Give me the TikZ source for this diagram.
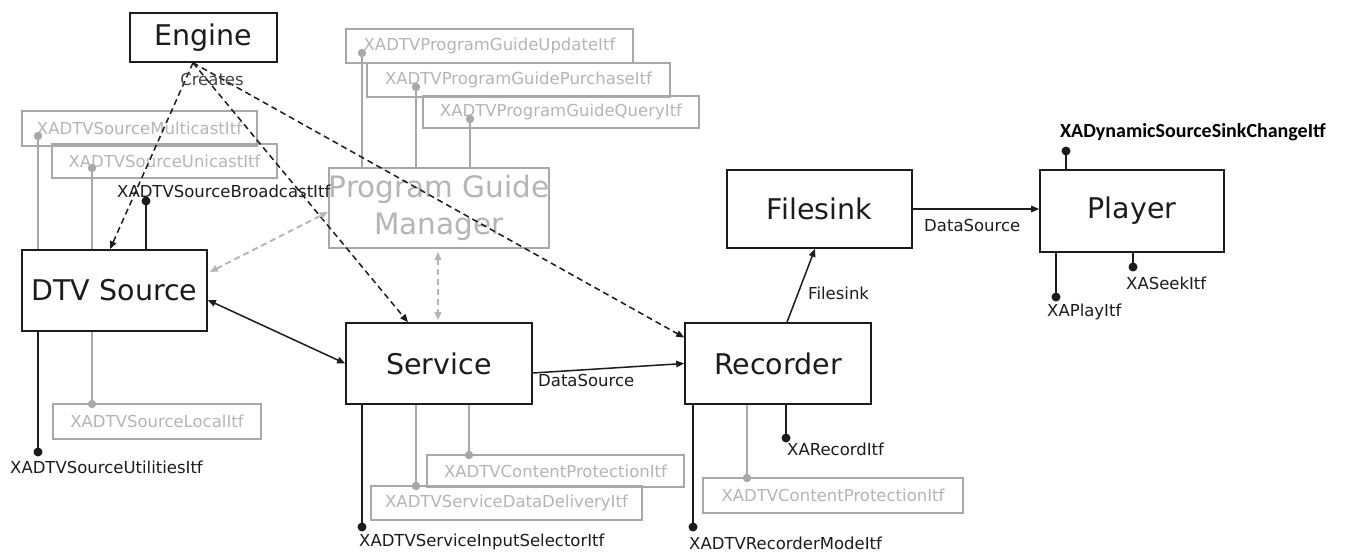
\documentclass[tikz,border=0pt]{standalone}
\usepackage{fontspec}
\setmainfont{DejaVu Sans}
\newfontfamily\calib{Carlito}
\usetikzlibrary{arrows.meta}
\definecolor{lg}{HTML}{A8A8A8}
\definecolor{lgt}{HTML}{B5B5B5}
\definecolor{dk}{HTML}{1C1C1C}
\definecolor{mdk}{HTML}{444444}
\begin{document}
\begin{tikzpicture}[x=1pt,y=-1pt,
 comp/.style={draw=dk, line width=1.6pt, inner sep=0pt, font=\fontsize{28.5}{31}\selectfont, text=dk},
 ibox/.style={draw=lg, line width=1.8pt, inner sep=0pt, font=\fontsize{16.5}{18}\selectfont, text=lgt},
 lbl/.style={inner sep=0pt, font=\fontsize{16.5}{18}\selectfont, text=dk, anchor=west},
 bline/.style={draw=dk, line width=1.6pt},
 gline/.style={draw=lg, line width=1.8pt},
 tip/.style={-{Triangle[length=8pt,width=6.5pt]}},
 ttip/.style={{Triangle[length=8pt,width=6.5pt]}-{Triangle[length=8pt,width=6.5pt]}},
 dsh/.style={dash pattern=on 6pt off 4pt, line width=1.5pt},
]
\fill[white] (0,0) rectangle (1359,554);
\useasboundingbox (0,0) rectangle (1359,554);

% interface boxes (grey)
\node[ibox, minimum width=235, minimum height=35] (mc) at (139.5,128.5) {XADTVSourceMulticastItf};
\node[ibox, minimum width=225, minimum height=34] (uc) at (164.5,161) {XADTVSourceUnicastItf};
\node[ibox, minimum width=208, minimum height=35] (lc) at (157,421.5) {XADTVSourceLocalItf};
\node[ibox, minimum width=287, minimum height=34] (pgu) at (489.5,46) {XADTVProgramGuideUpdateItf};
\node[ibox, minimum width=303, minimum height=34] (pgp) at (518.5,80) {XADTVProgramGuidePurchaseItf};
\node[ibox, minimum width=276, minimum height=32] (pgq) at (561,112) {XADTVProgramGuideQueryItf};
\node[ibox, minimum width=257, minimum height=32] (scp) at (555.5,471) {XADTVContentProtectionItf};
\node[ibox, minimum width=271, minimum height=34] (sdd) at (506.5,503) {XADTVServiceDataDeliveryItf};
\node[ibox, minimum width=260, minimum height=35] (rcp) at (833,495.5) {XADTVContentProtectionItf};

% components
\node[comp, minimum width=147, minimum height=49] (engine) at (203.5,37.5) {Engine};
\node[comp, minimum width=185, minimum height=81] (dtv) at (114.5,290.5) {DTV Source};
\node[comp, draw=lg, text=lgt, line width=1.8pt, minimum width=186, minimum height=80, align=center,
      font=\fontsize{29.5}{37}\selectfont] (pgm) at (439,208) {Program Guide\\Manager};
\node[comp, minimum width=186, minimum height=81] (service) at (439,363.5) {Service};
\node[comp, minimum width=186, minimum height=81] (recorder) at (778,363.5) {Recorder};
\node[comp, minimum width=185, minimum height=78] (filesink) at (819.5,209) {Filesink};
\node[comp, minimum width=184, minimum height=82] (player) at (1132,211) {Player};

% dot coordinates
\coordinate (dmc) at (38,136);
\coordinate (duc) at (92,168);
\coordinate (dbc) at (146,201);
\coordinate (dut) at (38,452);
\coordinate (dlc) at (92,404);
\coordinate (dpu) at (362,53);
\coordinate (dpp) at (416,87);
\coordinate (dpq) at (470,119);
\coordinate (dis) at (362,527);
\coordinate (ddd) at (416,486);
\coordinate (dcp) at (469,455);
\coordinate (drm) at (693,527);
\coordinate (drc) at (747,478);
\coordinate (drr) at (786,438);
\coordinate (ddy) at (1066,151);
\coordinate (dpl) at (1056,297);
\coordinate (dsk) at (1133,267);

% grey interface lines
\draw[gline] (dtv.north -| dmc) -- (dmc);
\draw[gline] (dtv.north -| duc) -- (duc);
\draw[gline] (dtv.south -| dlc) -- (dlc);
\draw[gline] (pgm.north -| dpu) -- (dpu);
\draw[gline] (pgm.north -| dpp) -- (dpp);
\draw[gline] (pgm.north -| dpq) -- (dpq);
\draw[gline] (service.south -| ddd) -- (ddd);
\draw[gline] (service.south -| dcp) -- (dcp);
\draw[gline] (recorder.south -| drc) -- (drc);
\foreach \d in {dmc,duc,dlc,dpu,dpp,dpq,ddd,dcp,drc}
  \fill[lg] (\d) circle[radius=4.2pt];

% black interface lines
\draw[bline] (dtv.north -| dbc) -- (dbc);
\draw[bline] (dtv.south -| dut) -- (dut);
\draw[bline] (service.south -| dis) -- (dis);
\draw[bline] (recorder.south -| drm) -- (drm);
\draw[bline] (recorder.south -| drr) -- (drr);
\draw[bline] (player.north -| ddy) -- (ddy);
\draw[bline] (player.south -| dpl) -- (dpl);
\draw[bline] (player.south -| dsk) -- (dsk);
\foreach \d in {dbc,dut,dis,drm,drr,ddy,dpl,dsk}
  \fill[dk] (\d) circle[radius=4.5pt];

% interface labels
\node[lbl] (lbc) at (117,191) {XADTVSourceBroadcastItf};
\node[lbl] (lut) at (10,467) {XADTVSourceUtilitiesItf};
\node[lbl] (lis) at (359,542) {XADTVServiceInputSelectorItf};
\node[lbl] (lrm) at (689,543) {XADTVRecorderModeItf};
\node[lbl] (lrr) at (787,449) {XARecordItf};
\node[lbl] (lpl) at (1047,312) {XAPlayItf};
\node[lbl] (lsk) at (1126,283) {XASeekItf};
\node[lbl, font=\calib\bfseries\fontsize{20}{22}\selectfont, text=black] (ldy) at (1060,132) {XADynamicSourceSinkChangeItf};

% Engine creates (dashed)
\draw[dsh, draw=dk, tip] ([xshift=-10.5pt]engine.south) -- ([xshift=-4.5pt]dtv.north);
\draw[dsh, draw=dk, tip] ([xshift=-10.5pt]engine.south) -- ([xshift=-31pt]service.north);
\draw[dsh, draw=dk, tip] ([xshift=-10.5pt]engine.south) -- ([yshift=26pt]recorder.west);
\node[lbl, anchor=center, text=mdk] (cr) at (212,79) {Creates};

% grey dashed double arrows
\draw[dsh, line width=1.9pt, draw=lgt, ttip, lgt] ([yshift=18.5pt,xshift=2pt]dtv.east) -- ([yshift=-4pt]pgm.west);
\draw[dsh, line width=1.9pt, draw=lgt, ttip, lgt, shorten <=3pt, shorten >=2pt] ([xshift=-1pt]pgm.south) -- ([xshift=-1pt]service.north);

% solid connectors
\draw[line width=1.5pt, draw=dk, ttip] ([yshift=-9.5pt]dtv.east) -- (service.west);
\draw[line width=1.5pt, draw=dk, tip] ([yshift=-9.5pt]service.east) -- (recorder.west);
\node[lbl] (lds1) at (538,380) {DataSource};
\draw[line width=1.5pt, draw=dk, tip] ([xshift=9pt]recorder.north) -- ([xshift=-4.5pt]filesink.south);
\node[lbl] (lfs) at (808,293) {Filesink};
\draw[line width=1.5pt, draw=dk, tip] (filesink.east) -- (filesink.east -| player.west);
\node[lbl] (lds2) at (924,225) {DataSource};
\end{tikzpicture}
\end{document}
